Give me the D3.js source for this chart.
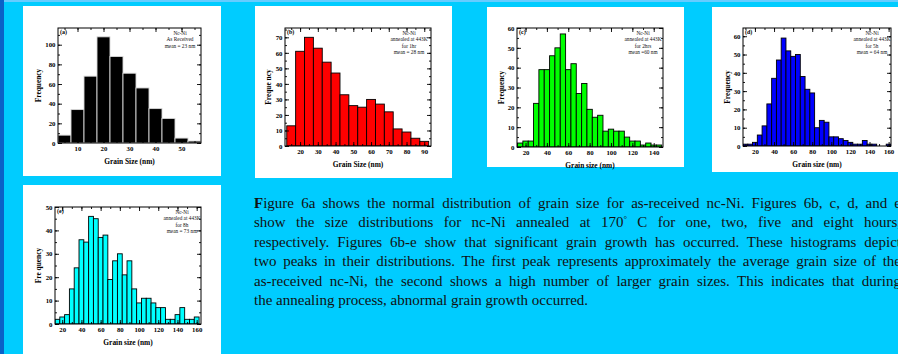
<!DOCTYPE html>
<html>
<head>
<meta charset="utf-8">
<script src="https://cdn.jsdelivr.net/npm/d3@7/dist/d3.min.js"></script>
<style>
  html, body { margin: 0; padding: 0; }
  body { width: 898px; height: 354px; overflow: hidden; background: #00ccff; position: relative; }
  svg { position: absolute; left: 0; top: 0; }
  .para { position: absolute; left: 254px; top: 194px; width: 647px;
    font-family: "Liberation Serif", "Times New Roman", serif; font-size: 15px; color: #111; }
  .para div { text-align: justify; text-align-last: justify; line-height: 19.4px; white-space: nowrap; }
  .para div.last { text-align-last: left; }
  .para sup { font-size: 9px; vertical-align: 5px; line-height: 0; }
  .tick text { font-family: "Liberation Serif", serif; font-weight: bold; }
</style>
</head>
<body>
<svg id="chart" width="898" height="354"></svg>
<div class="para">
  <div><b>F</b>igure 6a shows the normal distribution of grain size for as-received nc-Ni. Figures 6b, c, d, and e</div>
  <div>show the size distributions for nc-Ni annealed at 170<sup>°</sup> C for one, two, five and eight hours,</div>
  <div>respectively. Figures 6b-e show that significant grain growth has occurred. These histograms depict</div>
  <div>two peaks in their distributions. The first peak represents approximately the average grain size of the</div>
  <div>as-received nc-Ni, the second shows a high number of larger grain sizes. This indicates that during</div>
  <div class="last">the annealing process, abnormal grain growth occurred.</div>
</div>
<script>
// bin centres (nm) and counts
const binsA = [5, 10, 15, 20, 25, 30, 35, 40, 45, 50, 55];
const countsA = [8, 34, 68, 108, 88, 71, 56, 35, 25, 5, 2];

const binsB = [15, 20, 25, 30, 35, 40, 45, 50, 55, 60, 65, 70, 75, 80, 85, 90];
const countsB = [13, 61, 70, 63, 54, 47, 33, 26, 25, 30, 27, 22, 11, 9, 5, 3];

const binsC = [15, 20, 25, 30, 35, 40, 45, 50, 55, 60, 65, 70, 75, 80, 85, 90, 95,
  100, 105, 110, 115, 120, 125, 130, 135, 140, 145];
const countsC = [2, 3, 3, 22, 39, 39, 46, 50, 57, 39, 42, 27, 32, 19, 15, 16, 8,
  9, 8, 8, 5, 3, 3, 1, 2, 1, 1];

const binsD = [10, 15, 20, 25, 30, 35, 40, 45, 50, 55, 60, 65, 70, 75, 80, 85, 90,
  95, 100, 105, 110, 115, 120, 125, 130, 135, 140, 145, 150, 155, 160];
const countsD = [1, 1, 2, 6, 11, 23, 37, 47, 59, 52, 49, 50, 38, 31, 29, 10, 14,
  13, 5, 5, 4, 3, 2, 1, 1, 3, 1, 1, 0, 0, 1];

const binsE = [15, 20, 25, 30, 35, 40, 45, 50, 55, 60, 65, 70, 75, 80, 85, 90, 95,
  100, 105, 110, 115, 120, 125, 130, 135, 140, 145, 150, 155, 160];
const countsE = [2, 3, 4, 15, 24, 36, 35, 46, 45, 37, 38, 19, 27, 30, 21, 27, 15,
  9, 11, 11, 9, 7, 7, 2, 2, 4, 7, 2, 2, 3];

// tick labels
const xTicksA = [10, 20, 30, 40, 50];
const yTicksA = [0, 20, 40, 60, 80, 100];
const xTicksB = [20, 30, 40, 50, 60, 70, 80, 90];
const yTicksB = [0, 10, 20, 30, 40, 50, 60, 70];
const xTicksC = [20, 40, 60, 80, 100, 120, 140];
const yTicksC = [0, 10, 20, 30, 40, 50, 60];
const xTicksD = [20, 40, 60, 80, 100, 120, 140, 160];
const yTicksD = [0, 10, 20, 30, 40, 50, 60];
const xTicksE = [20, 40, 60, 80, 100, 120, 140, 160];
const yTicksE = [0, 10, 20, 30, 40, 50];

const notesA = ["Nc-Ni", "As Received", "mean = 23 nm"];
const notesB = ["Nc-Ni", "annealed at 443K", "for 1hr", "mean = 28 nm"];
const notesC = ["Nc-Ni", "annealed at 443K", "for 2hrs", "mean =60 nm"];
const notesD = ["Nc-Ni", "annealed at 443K", "for 5h", "mean = 64 nm"];
const notesE = ["Nc-Ni", "annealed at 443K", "for 8h", "mean = 73 nm"];

const panels = [
  { tag: "(a)", box: [23, 6, 198, 170], frame: [58, 28, 201, 143], xd: [2.5, 57.5], yd: [0, 117],
    bins: binsA, counts: countsA, xt: xTicksA, yt: yTicksA, xm: 5, ym: 10,
    fill: "#000", stroke: "#d8d8d8", notes: notesA, noteDx: 21,
    xTitle: "Grain Size (nm)", yTitle: "Frequency", yTitleX: 38 },
  { tag: "(b)", box: [255, 6, 197, 172], frame: [285, 28, 431, 146], xd: [11.5, 93.8], yd: [0, 76],
    bins: binsB, counts: countsB, xt: xTicksB, yt: yTicksB, xm: 5, ym: 5,
    fill: "#ff0000", stroke: "#000", notes: notesB, noteDx: 22,
    xTitle: "Grain Size (nm)", yTitle: "Freque ncy", yTitleX: 268 },
  { tag: "(c)", box: [487, 7, 197, 160], frame: [517, 28, 663, 147], xd: [12, 148.7], yd: [0, 60],
    bins: binsC, counts: countsC, xt: xTicksC, yt: yTicksC, xm: 10, ym: 5,
    fill: "#00ff00", stroke: "#000", notes: notesC, noteDx: 20,
    xTitle: "Grain size (nm)", yTitle: "Frequency", yTitleX: 501 },
  { tag: "(d)", box: [712, 7, 190, 165], frame: [743, 28, 891, 146], xd: [7.5, 162.5], yd: [0, 64.5],
    bins: binsD, counts: countsD, xt: xTicksD, yt: yTicksD, xm: 10, ym: 5,
    fill: "#0000ff", stroke: "#000", notes: notesD, noteDx: 19,
    xTitle: "Grain size (nm)", yTitle: "Frequency", yTitleX: 727 },
  { tag: "(e)", box: [23, 185, 198, 175], frame: [55, 207, 201, 324], xd: [12.5, 164.5], yd: [0, 50],
    bins: binsE, counts: countsE, xt: xTicksE, yt: yTicksE, xm: 10, ym: 5,
    fill: "#00ffff", stroke: "#000", notes: notesE, noteDx: 19,
    xTitle: "Grain size (nm)", yTitle: "Fre quency", yTitleX: 38 }
];

const svg = d3.select("#chart");
const serif = "'Liberation Serif', 'Times New Roman', serif";

// page decoration: light strip on top, dark strip on the left
svg.append("rect").attr("x", 0).attr("y", 0).attr("width", 898).attr("height", 2).attr("fill", "#66ccff");
svg.append("rect").attr("x", 0).attr("y", 0).attr("width", 4).attr("height", 354).attr("fill", "#0a62c8");

panels.forEach(function (p) {
  let [fx0, fy0, fx1, fy1] = p.frame;
  let g = svg.append("g");

  g.append("rect")
    .attr("x", p.box[0]).attr("y", p.box[1])
    .attr("width", p.box[2]).attr("height", p.box[3])
    .attr("fill", "#fff");

  let x = d3.scaleLinear().domain(p.xd).range([fx0, fx1]);
  let y = d3.scaleLinear().domain(p.yd).range([fy1, fy0]);
  let half = 2.5;

  let clipId = "clip" + p.tag.replace(/\W/g, "");
  g.append("clipPath").attr("id", clipId)
    .append("rect").attr("x", fx0).attr("y", fy0).attr("width", fx1 - fx0).attr("height", fy1 - fy0);

  g.append("g").attr("clip-path", "url(#" + clipId + ")")
    .selectAll("rect")
    .data(p.bins)
    .join("rect")
    .attr("x", (d) => x(d - half))
    .attr("width", (d) => x(d + half) - x(d - half))
    .attr("y", (d, i) => y(p.counts[i]))
    .attr("height", (d, i) => y(0) - y(p.counts[i]))
    .attr("fill", p.fill)
    .attr("stroke", p.stroke)
    .attr("stroke-width", 0.9);

  let xMinor = d3.range(Math.ceil(p.xd[0] / p.xm) * p.xm, p.xd[1], p.xm);
  let yMinor = d3.range(0, p.yd[1], p.ym);

  function ax(axisFn, scale, vals, size, labels, tx, ty) {
    let a = axisFn(scale).tickValues(vals).tickSizeInner(-size).tickSizeOuter(0);
    if (labels) a.tickPadding(axisFn === d3.axisBottom ? 3.5 : 2.5);
    else a.tickFormat("");
    let n = g.append("g").attr("transform", "translate(" + tx + "," + ty + ")").call(a);
    n.select(".domain").remove();
    n.selectAll(".tick line").attr("stroke", "#000").attr("stroke-width", 0.9);
    n.selectAll(".tick text").attr("font-size", 6.8).attr("fill", "#000");
  }
  ax(d3.axisBottom, x, xMinor, 2, false, 0, fy1);
  ax(d3.axisBottom, x, p.xt, 4, true, 0, fy1);
  ax(d3.axisTop, x, xMinor, 2, false, 0, fy0);
  ax(d3.axisTop, x, p.xt, 4, false, 0, fy0);
  ax(d3.axisLeft, y, yMinor, 2, false, fx0, 0);
  ax(d3.axisLeft, y, p.yt, 4, true, fx0, 0);
  ax(d3.axisRight, y, yMinor, 2, false, fx1, 0);
  ax(d3.axisRight, y, p.yt, 4, false, fx1, 0);

  g.append("rect")
    .attr("x", fx0).attr("y", fy0)
    .attr("width", fx1 - fx0).attr("height", fy1 - fy0)
    .attr("fill", "none").attr("stroke", "#000").attr("stroke-width", 1);

  g.append("text")
    .attr("x", fx0 + 2).attr("y", fy0 + 6)
    .attr("font-family", serif).attr("font-weight", "bold").attr("font-size", 6)
    .text(p.tag);

  g.append("g").selectAll("text")
    .data(p.notes)
    .join("text")
    .attr("x", fx1 - p.noteDx)
    .attr("y", (d, i) => fy0 + 6.5 + i * 6.5)
    .attr("text-anchor", "middle")
    .attr("font-family", serif).attr("font-size", 5.3).attr("fill", "#111")
    .text((d) => d);

  g.append("text")
    .attr("x", (fx0 + fx1) / 2).attr("y", fy1 + 20.5)
    .attr("text-anchor", "middle")
    .attr("font-family", serif).attr("font-weight", "bold").attr("font-size", 7.4)
    .text(p.xTitle);

  g.append("text")
    .attr("transform", "translate(" + p.yTitleX + "," + (fy0 + fy1) / 2 + ") rotate(-90)")
    .attr("dy", "0.35em")
    .attr("text-anchor", "middle")
    .attr("font-family", serif).attr("font-weight", "bold").attr("font-size", 7.4)
    .text(p.yTitle);
});
</script>
</body>
</html>
